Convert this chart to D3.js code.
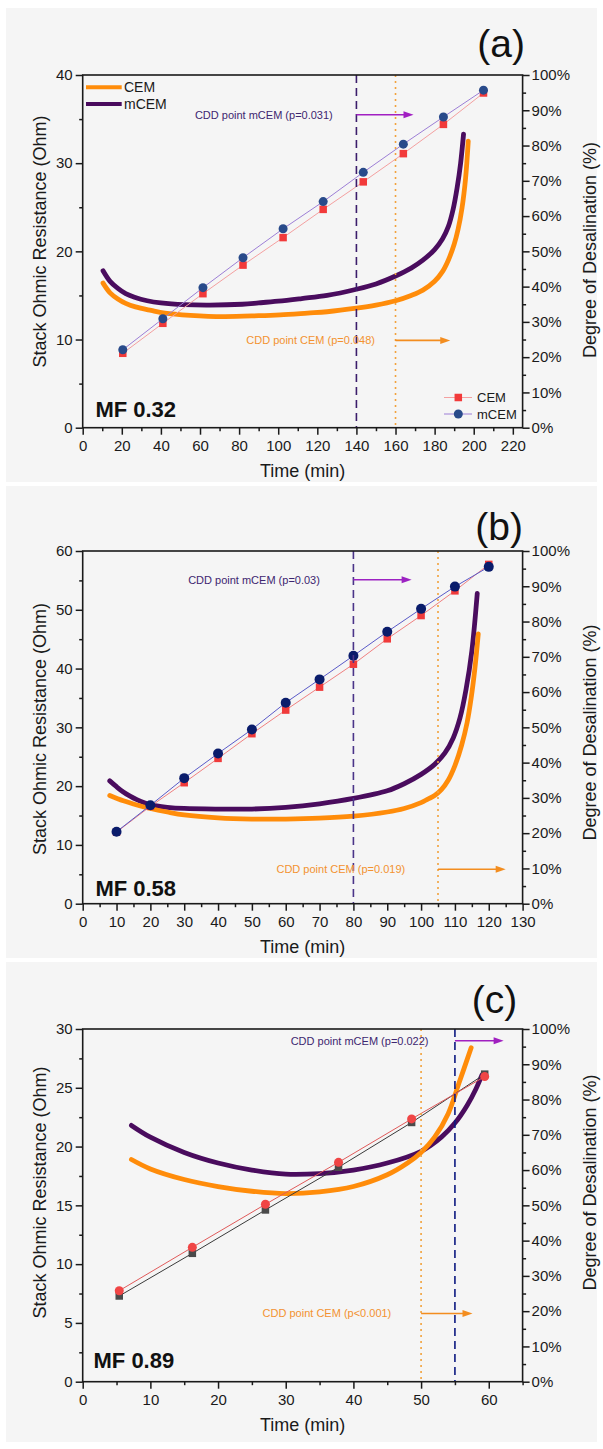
<!DOCTYPE html>
<html><head><meta charset="utf-8">
<script src="https://cdn.jsdelivr.net/npm/d3@7"></script>
<style>
html,body{margin:0;padding:0;background:#fff;}
svg{display:block;}
text{font-family:"Liberation Sans",Arial,Helvetica,sans-serif;}
</style></head><body>
<svg id="fig" width="603" height="1449"></svg>
<script>
// ---------------- data ----------------
const panelTags = ["(a)", "(b)", "(c)"];
const feedLabels = ["MF 0.32", "MF 0.58", "MF 0.89"];
const seriesNames = ["CEM", "mCEM"];
const xTitle = "Time (min)";
const yTitleLeft = "Stack Ohmic Resistance (Ohm)";
const yTitleRight = "Degree of Desalination (%)";
const pctTicks = [0, 10, 20, 30, 40, 50, 60, 70, 80, 90, 100];

// (a) MF 0.32 — stack resistance [time, Ohm]
const resA_CEM = [[10.4,16.4],[14,15.3],[18,14.6],[22,14.1],[27,13.7],[35,13.3],[42,13.0],[55,12.75],[72,12.6],[90,12.7],[101,12.8],[115,13.0],[125,13.15],[140,13.55],[150,13.9],[160,14.4],[168,15.0],[174,15.6],[180,16.6],[184,17.7],[187,19.0],[190,20.8],[192,22.5],[194,24.9],[195.8,28.2],[197.2,32.5]];
const resA_mCEM = [[10.4,17.8],[14,16.6],[18,15.8],[22,15.2],[26.5,14.8],[33,14.4],[40,14.15],[52,13.95],[65,13.9],[81.6,14.0],[90,14.15],[100,14.35],[112,14.65],[125,15.0],[140,15.7],[150,16.3],[160,17.2],[168,18.1],[174,19.0],[180,20.2],[184,21.4],[187,22.8],[189.5,24.8],[191.5,27.2],[193.3,30.0],[194.8,33.3]];
const timeA = [20.5, 41, 61.5, 82, 102.5, 123, 143.5, 164, 184.5, 205];
const desalA_CEM = [21.1, 29.6, 38.0, 46.1, 53.9, 61.9, 69.7, 77.7, 86.0, 94.9];
const desalA_mCEM = [22.1, 30.9, 39.7, 48.2, 56.4, 64.1, 72.4, 80.4, 88.1, 95.7];
const xTicksA = [0, 20, 40, 60, 80, 100, 120, 140, 160, 180, 200, 220];
const yTicksA = [0, 10, 20, 30, 40];
const cddA = { CEM: 160, mCEM: 140 };
const cddTextA = ["CDD point CEM (p=0.048)", "CDD point mCEM (p=0.031)"];

// (b) MF 0.58
const resB_CEM = [[8,18.4],[12,17.5],[16,16.8],[20,16.2],[25,15.6],[30,15.1],[40,14.6],[50,14.4],[60,14.4],[70,14.55],[80,14.9],[90,15.6],[95,16.2],[100,17.2],[102,17.8],[104,18.4],[106,19.4],[108,21.0],[110,23.5],[112,27.0],[113.6,30.8],[114.8,35.0],[115.9,40.0],[116.9,45.9]];
const resB_mCEM = [[8,20.9],[10,19.9],[12,19.0],[14,18.3],[16,17.7],[18,17.2],[20,16.8],[25,16.4],[30,16.2],[40,16.1],[50,16.1],[60,16.4],[70,17.0],[80,17.9],[90,19.2],[95,20.4],[100,22.0],[104,23.7],[107,25.6],[109.5,28.2],[111.5,31.6],[113.3,36.5],[115,43.0],[116.6,52.8]];
const timeB = [10, 20, 30, 40, 50, 60, 70, 80, 90, 100, 110, 120];
const desalB_CEM = [20.3, 27.6, 34.3, 41.2, 48.2, 54.9, 61.4, 67.9, 75.1, 81.7, 88.7, 96.2];
const desalB_mCEM = [20.4, 27.9, 35.6, 42.6, 49.4, 57.0, 63.6, 70.3, 77.1, 83.6, 89.9, 95.5];
const xTicksB = [0, 10, 20, 30, 40, 50, 60, 70, 80, 90, 100, 110, 120, 130];
const yTicksB = [0, 10, 20, 30, 40, 50, 60];
const cddB = { CEM: 105, mCEM: 80 };
const cddTextB = ["CDD point CEM (p=0.019)", "CDD point mCEM (p=0.03)"];

// (c) MF 0.89
const resC_CEM = [[7.2,18.9],[10,18.1],[15,17.2],[20,16.6],[25,16.2],[30,16.0],[35,16.15],[40,16.6],[45,17.6],[48,18.6],[50,19.5],[52,20.8],[54,22.8],[55.6,25.4],[57.4,28.4]];
const resC_mCEM = [[7.2,21.8],[10,20.8],[15,19.5],[20,18.6],[25,18.0],[30,17.65],[35,17.7],[40,18.0],[45,18.6],[50,19.6],[53,20.8],[55,22.0],[56.8,23.5],[58.1,24.9],[59,26.1]];
const timeC = [5.4, 16.2, 27, 37.8, 48.6, 59.4];
const desalC_CEM = [25.8, 38.1, 50.3, 62.2, 74.5, 86.5];
const desalC_mCEM = [24.3, 36.4, 48.7, 60.8, 73.5, 87.2];
const xTicksC = [0, 10, 20, 30, 40, 50, 60];
const yTicksC = [0, 5, 10, 15, 20, 25, 30];
const cddC = { CEM: 50, mCEM: 55 };
const cddTextC = ["CDD point CEM (p<0.001)", "CDD point mCEM (p=0.022)"];

// ---------------- drawing ----------------
const svg = d3.select("#fig");
const ORANGE = "#ff8c0a", PURPLE = "#4a0c5e";
const L = 82.7, R = 522.6;

// light backdrop behind each panel
[[8, 474], [486, 472], [962, 480]].forEach(([y0, h]) => {
  svg.append("rect").attr("x", 6).attr("y", y0).attr("width", 591).attr("height", h).attr("fill", "#f5f5f5");
});

function drawPanel(p) {
  const g = svg.append("g");
  const x = d3.scaleLinear().domain([0, p.xMax]).range([L, R]);
  const y = d3.scaleLinear().domain([0, p.yMax]).range([p.bottom, p.top]);
  const y2 = d3.scaleLinear().domain([0, 100]).range([p.bottom, p.top]);

  // resistance curves
  const line = d3.line().x(d => x(d[0])).y(d => y(d[1])).curve(d3.curveCatmullRom.alpha(0.5));
  g.append("path").datum(p.resM).attr("d", line).attr("fill", "none")
    .attr("stroke", PURPLE).attr("stroke-width", 4.8).attr("stroke-linecap", "round").attr("stroke-linejoin", "round");
  g.append("path").datum(p.resC).attr("d", line).attr("fill", "none")
    .attr("stroke", ORANGE).attr("stroke-width", 4.8).attr("stroke-linecap", "round").attr("stroke-linejoin", "round");

  // desalination series
  const pts = (vals) => p.time.map((t, i) => [t, vals[i]]);
  const pline = d3.line().x(d => x(d[0])).y(d => y2(d[1]));
  p.series.forEach(s => {
    const data = pts(s.vals);
    g.append("path").datum(data).attr("d", pline).attr("fill", "none")
      .attr("stroke", s.line).attr("stroke-width", 1);
    const m = g.selectAll(null).data(data).enter();
    if (s.shape === "square") {
      m.append("rect").attr("x", d => x(d[0]) - s.size / 2).attr("y", d => y2(d[1]) - s.size / 2)
        .attr("width", s.size).attr("height", s.size).attr("fill", s.fill);
    } else {
      m.append("circle").attr("cx", d => x(d[0])).attr("cy", d => y2(d[1])).attr("r", s.size / 2).attr("fill", s.fill);
    }
  });

  // CDD markers
  g.append("line").attr("x1", x(p.cdd.mCEM)).attr("x2", x(p.cdd.mCEM)).attr("y1", p.top).attr("y2", p.bottom)
    .attr("stroke", p.dashColor).attr("stroke-width", 1.6).attr("stroke-dasharray", "8,5");
  g.append("line").attr("x1", x(p.cdd.CEM)).attr("x2", x(p.cdd.CEM)).attr("y1", p.top).attr("y2", p.bottom)
    .attr("stroke", "#f2a23c").attr("stroke-width", 1.6).attr("stroke-dasharray", "2,4");

  function arrow(x0, x1, yv, color) {
    const ax0 = x(x0), ax1 = x(x1), ay = y(yv);
    g.append("line").attr("x1", ax0).attr("x2", ax1 - 7).attr("y1", ay).attr("y2", ay)
      .attr("stroke", color).attr("stroke-width", 1.6);
    g.append("path").attr("d", `M${ax1},${ay} L${ax1 - 10},${ay - 3.5} L${ax1 - 10},${ay + 3.5} Z`).attr("fill", color);
  }
  p.notes.forEach(n => {
    arrow(n.from, n.to, n.y, n.arrowColor);
    g.append("text").attr("x", x(n.textEnd)).attr("y", y(n.y)).attr("dy", "0.35em")
      .attr("text-anchor", "end").attr("font-size", 11).attr("fill", n.textColor).text(n.text);
  });

  // axes
  const fmt = d3.format("d");
  const axStyle = sel => {
    sel.select(".domain").remove();
    sel.selectAll("line").attr("stroke", "#1a1a1a").attr("stroke-width", 1.5);
    sel.selectAll("text").attr("font-size", 15).attr("fill", "#1a1a1a")
      .attr("font-family", '"Liberation Sans",Arial,sans-serif');
  };
  const minor = (ticks) => {
    const out = [];
    for (let i = 0; i < ticks.length - 1; i++) out.push((ticks[i] + ticks[i + 1]) / 2);
    return out;
  };
  const xMinor = minor(p.xTicks);
  const xStep = p.xTicks[1] - p.xTicks[0];
  if (p.xTicks[p.xTicks.length - 1] + xStep / 2 <= p.xMax) xMinor.push(p.xTicks[p.xTicks.length - 1] + xStep / 2);

  g.append("g").attr("transform", `translate(0,${p.bottom})`)
    .call(d3.axisBottom(x).tickValues(p.xTicks).tickFormat(fmt).tickSize(7).tickPadding(6)).call(axStyle);
  g.append("g").attr("transform", `translate(0,${p.bottom})`)
    .call(d3.axisBottom(x).tickValues(xMinor).tickFormat("").tickSize(3.5)).call(axStyle);
  g.append("g").attr("transform", `translate(${L},0)`)
    .call(d3.axisLeft(y).tickValues(p.yTicks).tickFormat(fmt).tickSize(7).tickPadding(3)).call(axStyle);
  g.append("g").attr("transform", `translate(${L},0)`)
    .call(d3.axisLeft(y).tickValues(minor(p.yTicks)).tickFormat("").tickSize(3.5)).call(axStyle);
  g.append("g").attr("transform", `translate(${R},0)`)
    .call(d3.axisRight(y2).tickValues(pctTicks).tickFormat(d => d + "%").tickSize(7).tickPadding(2)).call(axStyle);
  g.append("g").attr("transform", `translate(${R},0)`)
    .call(d3.axisRight(y2).tickValues(minor(pctTicks)).tickFormat("").tickSize(3.5)).call(axStyle);

  g.append("rect").attr("x", L).attr("y", p.top).attr("width", R - L).attr("height", p.bottom - p.top)
    .attr("fill", "none").attr("stroke", "#1a1a1a").attr("stroke-width", 1.6);

  // titles and labels
  g.append("text").attr("x", (L + R) / 2).attr("y", p.bottom + 49).attr("text-anchor", "middle")
    .attr("font-size", 18).attr("fill", "#1a1a1a").text(xTitle);
  g.append("text").attr("transform", `translate(46,${p.leftTitleY}) rotate(-90)`).attr("text-anchor", "middle")
    .attr("font-size", 18).attr("fill", "#1a1a1a").text(yTitleLeft);
  g.append("text").attr("transform", `translate(596,${p.rightTitleY}) rotate(-90)`).attr("text-anchor", "middle")
    .attr("font-size", 18).attr("fill", "#1a1a1a").text(yTitleRight);
  g.append("text").attr("x", p.tagRight).attr("y", p.tagY).attr("text-anchor", "end")
    .attr("font-size", 39).attr("fill", "#111").text(p.tag);
  g.append("text").attr("x", p.mfX).attr("y", p.mfY).attr("font-size", 22).attr("font-weight", "bold")
    .attr("fill", "#111").text(p.mf);

  return { g, x, y, y2 };
}

// panel (a)
drawPanel({
  top: 75, bottom: 427.7, xMax: 225, yMax: 40, xTicks: xTicksA, yTicks: yTicksA,
  resC: resA_CEM, resM: resA_mCEM, time: timeA,
  series: [
    { vals: desalA_CEM, shape: "square", size: 7.5, fill: "#f23a3a", line: "#f4a0a0" },
    { vals: desalA_mCEM, shape: "circle", size: 9, fill: "#284a8a", line: "#9d7fd6" }
  ],
  cdd: cddA, dashColor: "#3b1d6b",
  notes: [
    { from: cddA.mCEM, to: 169.2, y: 35.5, textEnd: 127.9, text: cddTextA[1], arrowColor: "#a11fc2", textColor: "#3d2670" },
    { from: cddA.CEM, to: 188, y: 9.9, textEnd: 149.5, text: cddTextA[0], arrowColor: "#f38d1f", textColor: "#f39230" }
  ],
  leftTitleY: 241.5, rightTitleY: 250, tag: panelTags[0], tagRight: 525, tagY: 56.5,
  mf: feedLabels[0], mfX: 95.4, mfY: 416.7
});

// legends in panel (a)
[[ORANGE, 87.3, seriesNames[0]], [PURPLE, 104, seriesNames[1]]].forEach(([c, ly, t]) => {
  svg.append("line").attr("x1", 86).attr("x2", 121.7).attr("y1", ly).attr("y2", ly).attr("stroke", c).attr("stroke-width", 4);
  svg.append("text").attr("x", 124).attr("y", ly).attr("dy", "0.35em").attr("font-size", 14).attr("fill", "#1a1a1a").text(t);
});
[["#f4a0a0", "#f23a3a", "square", 397.5, seriesNames[0]], ["#9d7fd6", "#284a8a", "circle", 414, seriesNames[1]]].forEach(([lc, fc, sh, ly, t]) => {
  svg.append("line").attr("x1", 444).attr("x2", 472).attr("y1", ly).attr("y2", ly).attr("stroke", lc).attr("stroke-width", 1);
  if (sh === "square") svg.append("rect").attr("x", 458.3 - 3.75).attr("y", ly - 3.75).attr("width", 7.5).attr("height", 7.5).attr("fill", fc);
  else svg.append("circle").attr("cx", 458.3).attr("cy", ly).attr("r", 4.5).attr("fill", fc);
  svg.append("text").attr("x", 477).attr("y", ly).attr("dy", "0.35em").attr("font-size", 13).attr("fill", "#1a1a1a").text(t);
});

// panel (b)
drawPanel({
  top: 551, bottom: 903.7, xMax: 130, yMax: 60, xTicks: xTicksB, yTicks: yTicksB,
  resC: resB_CEM, resM: resB_mCEM, time: timeB,
  series: [
    { vals: desalB_CEM, shape: "square", size: 7.5, fill: "#f03a3a", line: "#f08080" },
    { vals: desalB_mCEM, shape: "circle", size: 10, fill: "#0a1c6b", line: "#5a5ac8" }
  ],
  cdd: cddB, dashColor: "#4a3488",
  notes: [
    { from: cddB.mCEM, to: 97.2, y: 55.1, textEnd: 70.1, text: cddTextB[1], arrowColor: "#9c22c2", textColor: "#3d2670" },
    { from: cddB.CEM, to: 125, y: 5.85, textEnd: 95.3, text: cddTextB[0], arrowColor: "#f38d1f", textColor: "#f39230" }
  ],
  leftTitleY: 729, rightTitleY: 732.5, tag: panelTags[1], tagRight: 523, tagY: 540,
  mf: feedLabels[1], mfX: 95.4, mfY: 895.5
});

// panel (c)
drawPanel({
  top: 1029, bottom: 1381.7, xMax: 65, yMax: 30, xTicks: xTicksC, yTicks: yTicksC,
  resC: resC_CEM, resM: resC_mCEM, time: timeC,
  series: [
    { vals: desalC_mCEM, shape: "square", size: 7.5, fill: "#4a4a4a", line: "#3a3a3a" },
    { vals: desalC_CEM, shape: "circle", size: 9, fill: "#f04545", line: "#e05a5a" }
  ],
  cdd: cddC, dashColor: "#0d1a80",
  notes: [
    { from: cddC.mCEM, to: 62.2, y: 29.0, textEnd: 51.1, text: cddTextC[1], arrowColor: "#a020c0", textColor: "#3d2670" },
    { from: cddC.CEM, to: 57.6, y: 5.8, textEnd: 45.6, text: cddTextC[0], arrowColor: "#f38d1f", textColor: "#f39230" }
  ],
  leftTitleY: 1192.5, rightTitleY: 1182.5, tag: panelTags[2], tagRight: 517.3, tagY: 1013.3,
  mf: feedLabels[2], mfX: 93.5, mfY: 1368
});
</script>
</body></html>
